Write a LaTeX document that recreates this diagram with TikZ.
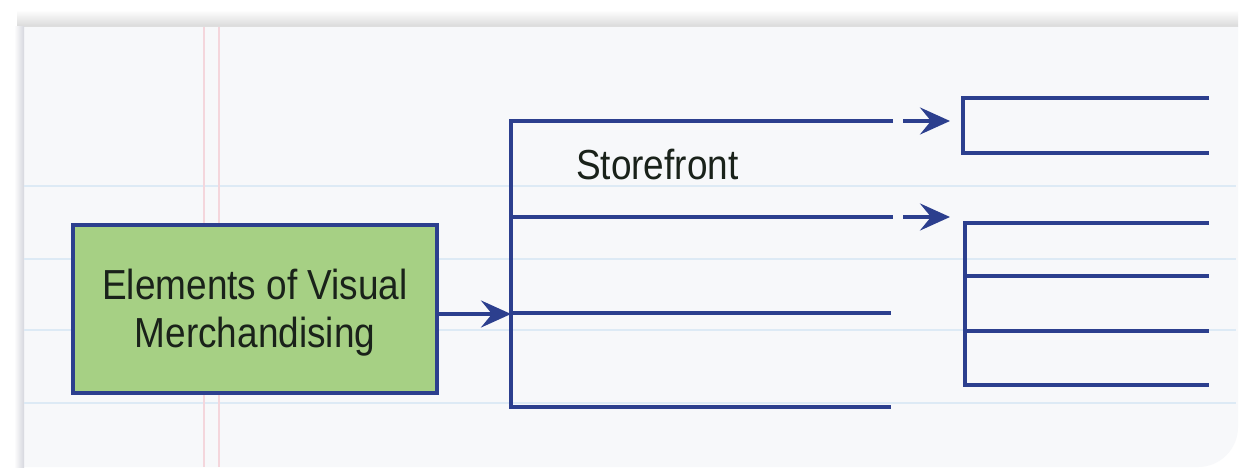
\documentclass[tikz,border=0pt]{standalone}
\usepackage{fontspec}
\newfontfamily\labelfont[FakeStretch=0.88]{Liberation Sans}
\usetikzlibrary{arrows.meta}

\definecolor{inkblue}{HTML}{2C3F8E}
\definecolor{boxgreen}{HTML}{A6D084}
\definecolor{paper}{HTML}{F7F8FA}
\definecolor{ruleblue}{HTML}{DDEAF5}
\definecolor{marginred}{HTML}{F4D6DC}
\definecolor{textdark}{HTML}{1A221A}
\definecolor{edgegray}{HTML}{D6D7DE}

\begin{document}
\begin{tikzpicture}[x=1pt,y=-1pt,
  bar/.style={draw=inkblue,line width=4pt,line join=miter},
  pointer/.style={bar,-{Stealth[length=30pt,width=27pt,inset=11pt]}},
  ruling/.style={draw=ruleblue,line width=2pt},
  marginline/.style={draw=marginred,line width=1.5pt},
  label/.style={font=\labelfont\fontsize{42}{48}\selectfont,text=textdark,inner sep=0pt},
  mainbox/.style={draw=inkblue,line width=4pt,fill=boxgreen,
    minimum width=364pt,minimum height=168pt,inner sep=0pt,outer sep=0pt}]

\useasboundingbox (0,0) rectangle (1243,470);
\fill[white] (0,0) rectangle (1243,470);

% notebook page
\shade[top color=white,bottom color=gray!30] (17,10) rectangle (1238,27);
\fill[paper] (23,27) -- (1238,27) -- (1238,427)
  arc[start angle=0,end angle=90,radius=40] -- (23,467) -- cycle;
\shade[left color=white,right color=edgegray] (14,27) rectangle (24,467);

% ruled lines and margin
\foreach \yy in {186,259,330,403}
  \draw[ruling] (24,\yy) -- (1236,\yy);
\draw[marginline] (204,27) -- (204,467);
\draw[marginline] (219,27) -- (219,467);

% main box (extra height above the text block lowers it a little)
\node[mainbox,label] (box) at (255,309)
  {\raisebox{0pt}[\dimexpr\height+9pt\relax]{\begin{tabular}{@{}c@{}}Elements of Visual\\Merchandising\end{tabular}}};

% central bracket
\coordinate (bt) at (511,121);
\coordinate (b2) at (511,217);
\coordinate (b3) at (511,314);
\coordinate (bb) at (511,407);
\coordinate (e1) at (893,121);
\coordinate (e2) at (893,217);
\coordinate (e3) at (891,313);
\coordinate (e4) at (891,407);
\draw[bar] (e1) -- (bt) -- (bb) -- (e4);
\draw[bar] (b2) -- (e2);
\draw[bar] (b3 |- e3) -- (e3);
\draw[pointer] (box.east |- b3) -- (b3);

\node[label,anchor=base west] (store) at (576,180) {Storefront};

% short arrows
\coordinate (p1) at (903,121);
\coordinate (q1) at (950,121);
\coordinate (p2) at (903,217);
\coordinate (q2) at (950,217);
\draw[pointer] (p1) -- (q1);
\draw[pointer] (p2) -- (q2);

% upper right bracket
\coordinate (ra) at (963,98);
\coordinate (rb) at (963,153);
\coordinate (ra') at (1209,98);
\coordinate (rb') at (1209,153);
\draw[bar] (ra') -- (ra) -- (rb) -- (rb');

% lower right bracket
\coordinate (sa) at (965,223);
\coordinate (sb) at (965,276);
\coordinate (sc) at (965,331);
\coordinate (sd) at (965,385);
\coordinate (sa') at (1209,223);
\coordinate (sb') at (1209,276);
\coordinate (sc') at (1209,331);
\coordinate (sd') at (1209,385);
\draw[bar] (sa') -- (sa) -- (sd) -- (sd');
\draw[bar] (sb) -- (sb');
\draw[bar] (sc) -- (sc');

\end{tikzpicture}
\end{document}
